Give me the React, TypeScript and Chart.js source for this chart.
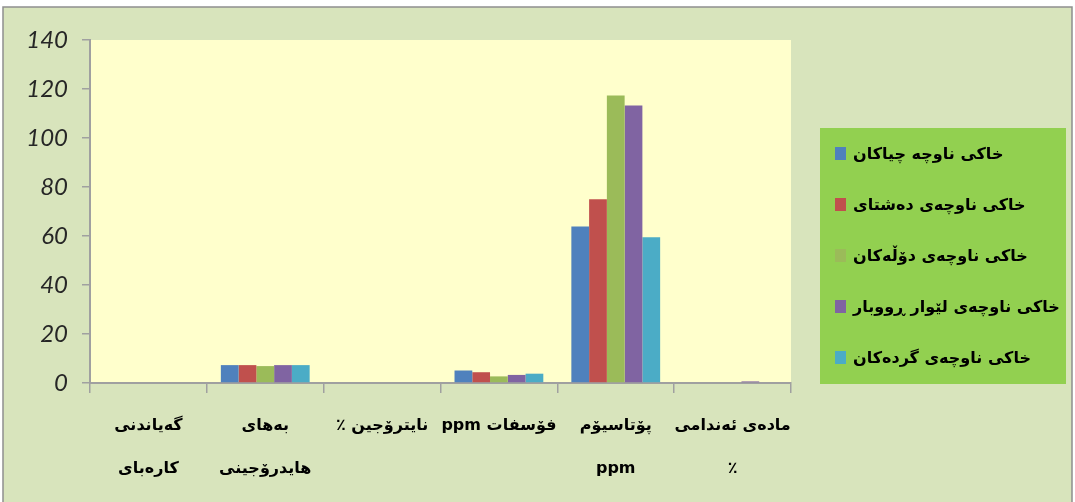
import React, { useEffect, useRef } from "react";
import { Chart, registerables } from "chart.js";

Chart.register(...registerables);

// ---- data ----
const categories: (string | string[])[] = [
  ["گەیاندنی", "کارەبای"],
  ["بەهای", "هایدرۆجینی"],
  "\u202Bنایترۆجین ٪\u202C",
  "\u202Bفۆسفات ppm\u202C",
  ["پۆتاسیۆم", "ppm"],
  ["مادەی ئەندامی", "٪"],
];

const seriesNames = [
  "خاکی ناوچە چیاکان",
  "خاکی ناوچەی دەشتای",
  "خاکی ناوچەی دۆڵەکان",
  "خاکی ناوچەی لێوار ڕووبار",
  "خاکی ناوچەی گردەکان",
];

const seriesColors = ["#4F81BD", "#C0504D", "#9BBB59", "#8064A2", "#4BACC6"];

const mountainValues = [0, 7.3, 0, 5.1, 63.9, 0];
const plainValues = [0, 7.3, 0, 4.4, 75.0, 0];
const valleyValues = [0, 6.9, 0, 2.7, 117.3, 0];
const riverbankValues = [0, 7.3, 0, 3.3, 113.3, 0.65];
const hillValues = [0, 7.3, 0, 3.8, 59.5, 0];

const seriesValues = [mountainValues, plainValues, valleyValues, riverbankValues, hillValues];

const yMin = 0;
const yMax = 140;
const yStep = 20;

const W = 1075;
const H = 502;

const backgroundPlugin = {
  id: "bgPlugin",
  beforeDraw(chart: any) {
    const { ctx, chartArea } = chart;
    ctx.save();
    ctx.fillStyle = "#FFFFFF";
    ctx.fillRect(0, 0, W, H);
    ctx.fillStyle = "#D8E4BC";
    ctx.fillRect(3, 7, W - 6, H - 7);
    ctx.strokeStyle = "#8E8E8E";
    ctx.lineWidth = 1.5;
    ctx.strokeRect(3, 7, W - 6, H - 5);
    ctx.fillStyle = "#FFFFCC";
    ctx.fillRect(chartArea.left, chartArea.top, chartArea.right - chartArea.left, chartArea.bottom - chartArea.top);
    ctx.restore();
  },
};

const legendPlugin = {
  id: "boxLegend",
  afterDraw(chart: any) {
    const { ctx, chartArea } = chart;
    const left = chartArea.right + 29;
    const top = 128;
    const width = 246;
    const height = chartArea.bottom + 1 - top;
    ctx.save();
    ctx.fillStyle = "#92D050";
    ctx.fillRect(left, top, width, height);
    ctx.font = 'bold 16px "DejaVu Sans"';
    (ctx as any).direction = "rtl";
    ctx.textAlign = "left";
    ctx.textBaseline = "middle";
    chart.data.datasets.forEach((ds: any, i: number) => {
      const y = top + 26 + i * 51;
      ctx.fillStyle = ds.backgroundColor;
      ctx.fillRect(left + 15, y - 7, 11, 13);
      ctx.fillStyle = "#000000";
      ctx.fillText(ds.label, left + 33, y + 1);
    });
    ctx.restore();
  },
};

export default function App() {
  const ref = useRef<HTMLCanvasElement | null>(null);

  useEffect(() => {
    if (!ref.current) return;
    const chart = new Chart(ref.current, {
      type: "bar",
      data: {
        labels: categories,
        datasets: seriesNames.map((name, i) => ({
          label: name,
          data: seriesValues[i],
          backgroundColor: seriesColors[i],
          borderWidth: 0,
          categoryPercentage: 0.76,
          barPercentage: 1.0,
        })),
      },
      options: {
        responsive: false,
        maintainAspectRatio: false,
        animation: false,
        layout: { padding: { left: 0, top: 40, right: 284, bottom: 0 } },
        plugins: {
          legend: { display: false },
          tooltip: { enabled: false },
          title: { display: false },
        },
        scales: {
          x: {
            offset: true,
            grid: {
              offset: true,
              drawOnChartArea: false,
              drawTicks: true,
              tickLength: 10,
              tickColor: "#A0A0A0",
              lineWidth: 1.5,
            },
            border: { display: true, color: "#A0A0A0", width: 2 },
            ticks: {
              color: "#000000",
              font: { family: '"DejaVu Sans"', size: 16, weight: "bold", lineHeight: 2.65 },
              padding: 12,
              maxRotation: 0,
              minRotation: 0,
              autoSkip: false,
            },
            afterFit: (s: any) => {
              s.height = 119;
            },
          },
          y: {
            min: yMin,
            max: yMax,
            grid: {
              drawOnChartArea: false,
              drawTicks: true,
              tickLength: 8,
              tickColor: "#A0A0A0",
              lineWidth: 1.5,
            },
            border: { display: true, color: "#A0A0A0", width: 2 },
            ticks: {
              stepSize: yStep,
              color: "#262626",
              font: { family: "Lato", size: 24, style: "italic" },
              padding: 14,
            },
            afterFit: (s: any) => {
              s.width = 90;
            },
          },
        },
      },
      plugins: [backgroundPlugin, legendPlugin],
    });
    return () => chart.destroy();
  }, []);

  return (
    <div style={{ position: "absolute", left: 0, top: 0, width: W, height: H }}>
      <canvas ref={ref} width={W} height={H} style={{ width: W, height: H, display: "block" }} />
    </div>
  );
}
